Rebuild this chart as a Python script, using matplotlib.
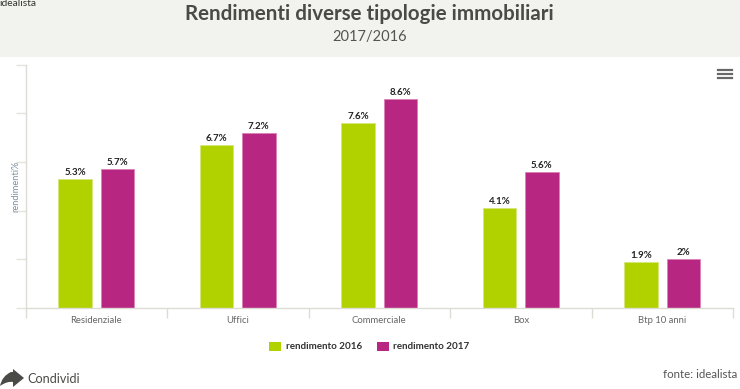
import numpy as np
import matplotlib
matplotlib.use("Agg")
import matplotlib.pyplot as plt
from matplotlib.patches import Rectangle, PathPatch
from matplotlib.path import Path

categorie = ["Residenziale", "Uffici", "Commerciale", "Box", "Btp 10 anni"]
rendimento_2016 = [5.3, 6.7, 7.6, 4.1, 1.9]
rendimento_2017 = [5.7, 7.2, 8.6, 5.6, 2]
etichette_2016 = ["5.3%", "6.7%", "7.6%", "4.1%", "1.9%"]
etichette_2017 = ["5.7%", "7.2%", "8.6%", "5.6%", "2%"]
y_ticks = [0, 2, 4, 6, 8, 10]

VERDE = "#b2d200"
VIOLA = "#b72782"
W, H = 740, 389

plt.rcParams["font.family"] = ["Lato", "DejaVu Sans"]

fig = plt.figure(figsize=(W / 100, H / 100), dpi=100, facecolor="white")


def fx(px):
    return px / W


def fy(py):
    return 1 - py / H


# fascia del titolo
fig.patches.append(Rectangle((0, fy(57)), 1, 57 / H, transform=fig.transFigure,
                             facecolor="#f2f3ee", edgecolor="none", zorder=0))
fig.text(fx(369), fy(14), "Rendimenti diverse tipologie immobiliari", ha="center", va="center",
         fontsize=14.8, fontweight="bold", color="#4a4a46")
fig.text(fx(369.5), fy(37), "2017/2016", ha="center", va="center", fontsize=10.5, color="#55554f")
fig.text(fx(-1), fy(3), "idealista", ha="left", va="center", fontsize=7.4, color="#333333")

# area del grafico
ax = fig.add_axes([fx(25.5), fy(308), fx(707.5), (308 - 64.5) / H])
ax.patch.set_alpha(0)
x = np.arange(len(categorie))
larghezza = 0.237
scarto = 0.149
barre_16 = ax.bar(x - scarto, rendimento_2016, larghezza, color=VERDE, edgecolor="#d5e77a", linewidth=0.6)
barre_17 = ax.bar(x + scarto, rendimento_2017, larghezza, color=VIOLA, edgecolor="#dc7fb8", linewidth=0.6)
ax.bar_label(barre_16, labels=etichette_2016, padding=1.5, fontsize=7, fontweight="bold", color="#222222")
ax.bar_label(barre_17, labels=etichette_2017, padding=1.5, fontsize=7, fontweight="bold", color="#222222")

ax.set_xlim(-0.5, 4.5)
ax.set_ylim(0, 10)
ax.set_yticks(y_ticks)
ax.set_yticklabels([])
ax.set_xticks([-0.5, 0.5, 1.5, 2.5, 3.5, 4.5])
ax.set_xticklabels([])
for i, nome in enumerate(categorie):
    ax.text(i, -0.33, nome, ha="center", va="top", fontsize=6.8, color="#666666", clip_on=False)
ax.tick_params(axis="x", length=7, width=1, color="#dcdcd4")
ax.tick_params(axis="y", length=7, width=1, color="#e4e4de")
for lato in ["top", "right"]:
    ax.spines[lato].set_visible(False)
for lato in ["left", "bottom"]:
    ax.spines[lato].set_color("#dcdcd4")
    ax.spines[lato].set_linewidth(1)

fig.text(fx(15.5), fy(186), "rendimenti%", rotation=90, ha="center", va="center", fontsize=6.7, color="#7d8f9b")

# legenda
fig.patches.append(Rectangle((fx(269), fy(351)), 12 / W, 9 / H, transform=fig.transFigure,
                             facecolor=VERDE, edgecolor="none"))
fig.text(fx(285.5), fy(346.5), "rendimento 2016", va="center", fontsize=7.1, fontweight="bold", color="#333333")
fig.patches.append(Rectangle((fx(377), fy(351)), 12 / W, 9 / H, transform=fig.transFigure,
                             facecolor=VIOLA, edgecolor="none"))
fig.text(fx(393.5), fy(346.5), "rendimento 2017", va="center", fontsize=7.1, fontweight="bold", color="#333333")

# icona menu
for py in [69.5, 73.5, 77.5]:
    fig.add_artist(plt.Line2D([fx(718), fx(732)], [fy(py), fy(py)], color="#666666", linewidth=1.6))

# freccia "Condividi"
punti = [(0, 386), (2, 376), (11, 372), (13, 372), (13, 369), (24, 378), (13, 387), (13, 382),
         (7, 381), (0, 386)]
codici = [Path.MOVETO, Path.CURVE3, Path.CURVE3, Path.LINETO, Path.LINETO, Path.LINETO, Path.LINETO,
          Path.LINETO, Path.CURVE3, Path.CURVE3]
freccia = Path([(fx(a), fy(b)) for a, b in punti], codici)
fig.patches.append(PathPatch(freccia, transform=fig.transFigure, facecolor="#4a4a46", edgecolor="none"))
fig.text(fx(27), fy(379), "Condividi", va="center", fontsize=9.1, color="#4a4a46")
fig.text(fx(737), fy(375), "fonte: idealista", ha="right", va="center", fontsize=8.3, color="#555555")

fig.savefig("out.png", dpi=100)
